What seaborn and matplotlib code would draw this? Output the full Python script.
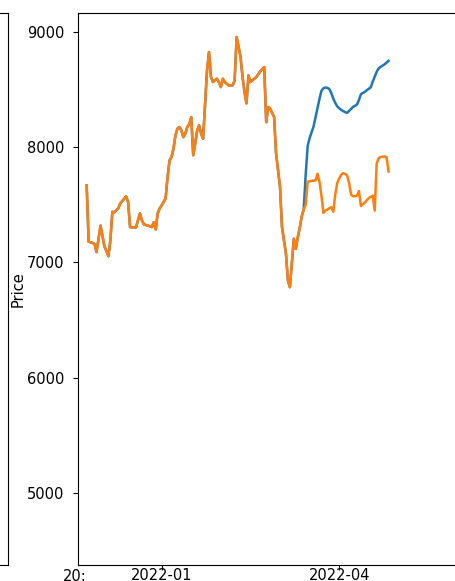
import matplotlib
matplotlib.use("Agg")
import matplotlib.pyplot as plt
import matplotlib.dates as mdates
import seaborn as sns
import pandas as pd

# Shared history (both series identical up to 2022-03-14)
history_dates = [
    "2021-11-24", "2021-11-25", "2021-11-27", "2021-11-28", "2021-11-29",
    "2021-12-01", "2021-12-02", "2021-12-03", "2021-12-04", "2021-12-05",
    "2021-12-06", "2021-12-07", "2021-12-08", "2021-12-10", "2021-12-11",
    "2021-12-12", "2021-12-14", "2021-12-15", "2021-12-16", "2021-12-18",
    "2021-12-19", "2021-12-21", "2021-12-22", "2021-12-23", "2021-12-25",
    "2021-12-27", "2021-12-28", "2021-12-29", "2021-12-30", "2021-12-31",
    "2022-01-02", "2022-01-03", "2022-01-04", "2022-01-05", "2022-01-06",
    "2022-01-07", "2022-01-08", "2022-01-09", "2022-01-10", "2022-01-11",
    "2022-01-12", "2022-01-13", "2022-01-14", "2022-01-15", "2022-01-16",
    "2022-01-17", "2022-01-18", "2022-01-19", "2022-01-20", "2022-01-21",
    "2022-01-22", "2022-01-23", "2022-01-24", "2022-01-25", "2022-01-26",
    "2022-01-27", "2022-01-28", "2022-01-29", "2022-01-30", "2022-01-31",
    "2022-02-01", "2022-02-02", "2022-02-03", "2022-02-04", "2022-02-06",
    "2022-02-07", "2022-02-08", "2022-02-09", "2022-02-10", "2022-02-11",
    "2022-02-12", "2022-02-13", "2022-02-14", "2022-02-15", "2022-02-16",
    "2022-02-18", "2022-02-20", "2022-02-22", "2022-02-23", "2022-02-24",
    "2022-02-25", "2022-02-27", "2022-02-28", "2022-03-02", "2022-03-03",
    "2022-03-05", "2022-03-06", "2022-03-07", "2022-03-08", "2022-03-09",
    "2022-03-10", "2022-03-11", "2022-03-12", "2022-03-13", "2022-03-14",
]
history_price = [
    7670, 7180, 7170, 7160, 7090,
    7320, 7230, 7140, 7100, 7055,
    7190, 7440, 7435, 7470, 7512,
    7532, 7573, 7524, 7307, 7304,
    7305, 7426, 7365, 7330, 7321,
    7307, 7350, 7287, 7426, 7469,
    7524, 7556, 7741, 7886, 7915,
    7987, 8103, 8161, 8175, 8146,
    8088, 8120, 8175, 8200, 8262,
    7930, 8031, 8146, 8190, 8118,
    8074, 8378, 8667, 8826, 8609,
    8566, 8581, 8595, 8566, 8522,
    8595, 8566, 8552, 8537, 8537,
    8581, 8957, 8870, 8783, 8609,
    8480, 8381, 8624, 8566, 8581,
    8609, 8659, 8696, 8218, 8349,
    8335, 8262, 7947, 7654, 7307,
    7078, 6844, 6786, 6991, 7206,
    7119, 7220, 7300, 7400, 7460,
]

# Daily values from 2022-03-15 to 2022-04-26
tail_start = "2022-03-15"
tail_end = "2022-04-26"
blue_tail = [
    7760, 8010, 8080, 8130, 8180, 8260, 8340, 8420, 8490, 8512,
    8518, 8515, 8505, 8470, 8422, 8385, 8355, 8338, 8325, 8314,
    8305, 8298, 8315, 8332, 8350, 8360, 8370, 8410, 8460, 8472,
    8480, 8495, 8508, 8520, 8570, 8612, 8655, 8685, 8698, 8708,
    8720, 8735, 8750,
]
orange_tail = [
    7500, 7700, 7705, 7708, 7710, 7712, 7770, 7700, 7580, 7430,
    7450, 7460, 7470, 7480, 7440, 7590, 7690, 7730, 7760, 7775,
    7770, 7755, 7690, 7590, 7575, 7575, 7580, 7620, 7490, 7505,
    7520, 7540, 7560, 7570, 7580, 7450, 7860, 7905, 7915, 7918,
    7920, 7915, 7790,
]

y_ticks = [5000, 6000, 7000, 8000, 9000]

hist_idx = list(pd.to_datetime(history_dates))
tail_idx = list(pd.date_range(tail_start, tail_end, freq="D"))

blue_df = pd.DataFrame({"Date": hist_idx + tail_idx,
                        "Price": history_price + blue_tail})
orange_df = pd.DataFrame({"Date": hist_idx + tail_idx,
                          "Price": history_price + orange_tail})

W, H = 455, 581
fig = plt.figure(figsize=(W / 100, H / 100), dpi=100)

ax_bottom = 1 - 565 / H
ax_height = (565 - 13) / H

# neighbouring panel: only its right edge is in view
left_panel = fig.add_axes([-0.6, ax_bottom, 0.6 + 8 / W, ax_height])
left_panel.set_xticks([])
left_panel.set_yticks([])

ax = fig.add_axes([78 / W, ax_bottom, (470 - 78) / W, ax_height])
sns.lineplot(data=blue_df, x="Date", y="Price", ax=ax,
             color="#1f77b4", linewidth=1.8)
sns.lineplot(data=orange_df, x="Date", y="Price", ax=ax,
             color="#ff7f0e", linewidth=1.8)

jan1 = pd.Timestamp("2022-01-01")
ax.set_xlim(jan1 - pd.Timedelta(days=42.4), jan1 + pd.Timedelta(days=156.3))
ax.set_ylim(4375, 9165)
ax.set_yticks(y_ticks)
ax.xaxis.set_major_locator(mdates.MonthLocator(bymonth=[1, 4, 7, 10]))
ax.xaxis.set_major_formatter(mdates.DateFormatter("%Y-%m"))
ax.tick_params(axis="both", labelsize=10.5)
ax.tick_params(axis="x", pad=-1)
ax.tick_params(axis="y", pad=6.5)
ax.set_xlabel("")
ax.set_ylabel("Price", fontsize=10.5, labelpad=0.5,
              family=["Liberation Sans Narrow", "DejaVu Sans"])

fig.text(63 / W, 1 - 569 / H, "20:", fontsize=10.5, ha="left", va="top")

fig.savefig("out.png", dpi=100)
